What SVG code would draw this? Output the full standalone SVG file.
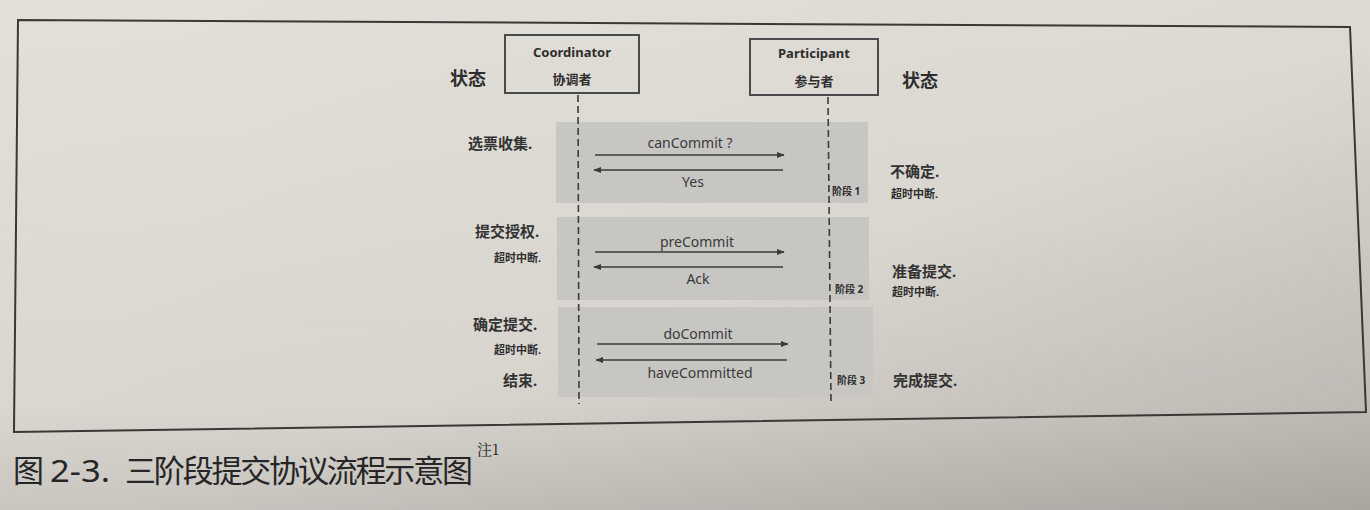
<svg xmlns="http://www.w3.org/2000/svg" width="1370" height="510" viewBox="0 0 1370 510">
  <defs>
    <linearGradient id="paper" x1="0" y1="0" x2="1" y2="1">
      <stop offset="0" stop-color="#e3dfd9"/>
      <stop offset="0.55" stop-color="#dcd8d2"/>
      <stop offset="1" stop-color="#bab5af"/>
    </linearGradient>
    <linearGradient id="shadeBottom" x1="0" y1="0" x2="0" y2="1">
      <stop offset="0" stop-color="#000" stop-opacity="0"/>
      <stop offset="0.8" stop-color="#000" stop-opacity="0.02"/>
      <stop offset="1" stop-color="#000" stop-opacity="0.09"/>
    </linearGradient>
    <marker id="head" viewBox="0 0 10 10" refX="9" refY="5" markerWidth="8" markerHeight="8" markerUnits="userSpaceOnUse" orient="auto">
      <path d="M0,1 L10,5 L0,9 Z" fill="#3a3a3a"/>
    </marker>
    <style>
      .frame { fill: none; stroke: #3a3835; stroke-width: 2; }
      .actor { fill: none; stroke: #4a4a4a; stroke-width: 2; }
      .phase { fill: #c7c6c3; }
      .life { stroke: #3c3c3c; stroke-width: 1.6; stroke-dasharray: 7 4; }
      .msg { stroke: #3a3a3a; stroke-width: 1.6; fill: none; marker-end: url(#head); }
      .t { fill: #2e2e2e; font-family: "Noto Sans", "Noto Sans CJK SC", sans-serif; }
      .lat { font-size: 14px; text-anchor: middle; fill: #3a3a3a; }
      .actorName { font-size: 13px; font-weight: bold; text-anchor: middle; }
      .actorCn { font-size: 13px; font-weight: bold; text-anchor: middle; }
      .stateHead { font-size: 18px; font-weight: bold; }
      .state { font-size: 15px; font-weight: bold; fill: #333; }
      .timeout { font-size: 11px; font-weight: bold; }
      .stage { font-size: 10px; font-weight: bold; }
      .caption { font-size: 31px; fill: #262626; }
      .note { font-size: 15px; fill: #262626; font-family: "Noto Serif CJK SC", "Liberation Serif", "Noto Sans CJK SC", serif; }
    </style>
  </defs>

  <!-- page -->
  <rect x="0" y="0" width="1370" height="510" fill="url(#paper)"/>
  <rect x="0" y="0" width="1370" height="510" fill="url(#shadeBottom)"/>

  <!-- figure frame -->
  <polygon class="frame" points="18,20 1350,27 1366,412 14,432"/>

  <!-- phase bands -->
  <g id="phase1"><rect class="phase" x="556" y="122" width="312" height="81"/></g>
  <g id="phase2"><rect class="phase" x="557" y="217" width="312" height="83"/></g>
  <g id="phase3"><rect class="phase" x="558" y="307" width="315" height="90"/></g>

  <!-- actors -->
  <g id="coordinator">
    <rect class="actor" x="505" y="35" width="134" height="58"/>
    <text class="t actorName" x="572" y="57">Coordinator</text>
    <text class="t actorCn" x="572" y="84">协调者</text>
  </g>
  <g id="participant">
    <rect class="actor" x="750" y="39" width="128" height="56"/>
    <text class="t actorName" x="814" y="58">Participant</text>
    <text class="t actorCn" x="814" y="86">参与者</text>
  </g>

  <!-- state columns -->
  <g id="coordinator-state">
    <text class="t stateHead" x="450" y="85">状态</text>
    <text class="t state" x="468" y="149">选票收集.</text>
    <text class="t state" x="475" y="237">提交授权.</text>
    <text class="t timeout" x="494" y="262">超时中断.</text>
    <text class="t state" x="473" y="330">确定提交.</text>
    <text class="t timeout" x="494" y="354">超时中断.</text>
    <text class="t state" x="503" y="386">结束.</text>
  </g>
  <g id="participant-state">
    <text class="t stateHead" x="902" y="87">状态</text>
    <text class="t state" x="890" y="177">不确定.</text>
    <text class="t timeout" x="891" y="198">超时中断.</text>
    <text class="t state" x="892" y="277">准备提交.</text>
    <text class="t timeout" x="892" y="296">超时中断.</text>
    <text class="t state" x="893" y="386">完成提交.</text>
  </g>
  <g id="stage-labels">
    <text class="t stage" x="832" y="195">阶段 1</text>
    <text class="t stage" x="835" y="293">阶段 2</text>
    <text class="t stage" x="837" y="384">阶段 3</text>
  </g>

  <!-- lifelines and messages -->
  <g id="connectors">
    <line class="life" x1="578" y1="95" x2="579" y2="404"/>
    <line class="life" x1="828" y1="97" x2="831" y2="402"/>

    <line class="msg" x1="595" y1="155" x2="784" y2="155"/>
    <line class="msg" x1="783" y1="170" x2="594" y2="170"/>
    <line class="msg" x1="595" y1="252" x2="784" y2="252"/>
    <line class="msg" x1="783" y1="267" x2="594" y2="267"/>
    <line class="msg" x1="597" y1="344" x2="788" y2="344"/>
    <line class="msg" x1="787" y1="360" x2="596" y2="360"/>
  </g>
  <g id="message-labels">
    <text class="t lat" x="690" y="148">canCommit ?</text>
    <text class="t lat" x="693" y="187">Yes</text>
    <text class="t lat" x="697" y="247">preCommit</text>
    <text class="t lat" x="698" y="284">Ack</text>
    <text class="t lat" x="698" y="339">doCommit</text>
    <text class="t lat" x="700" y="378">haveCommitted</text>
  </g>

  <!-- figure caption -->
  <g id="caption">
    <text class="t caption" x="13" y="482">图</text>
    <text class="t caption" x="50" y="482" textLength="60" lengthAdjust="spacingAndGlyphs">2-3.</text>
    <text class="t caption" x="125" y="482" textLength="348">三阶段提交协议流程示意图</text>
    <text class="note" x="477" y="455">注1</text>
  </g>
</svg>
